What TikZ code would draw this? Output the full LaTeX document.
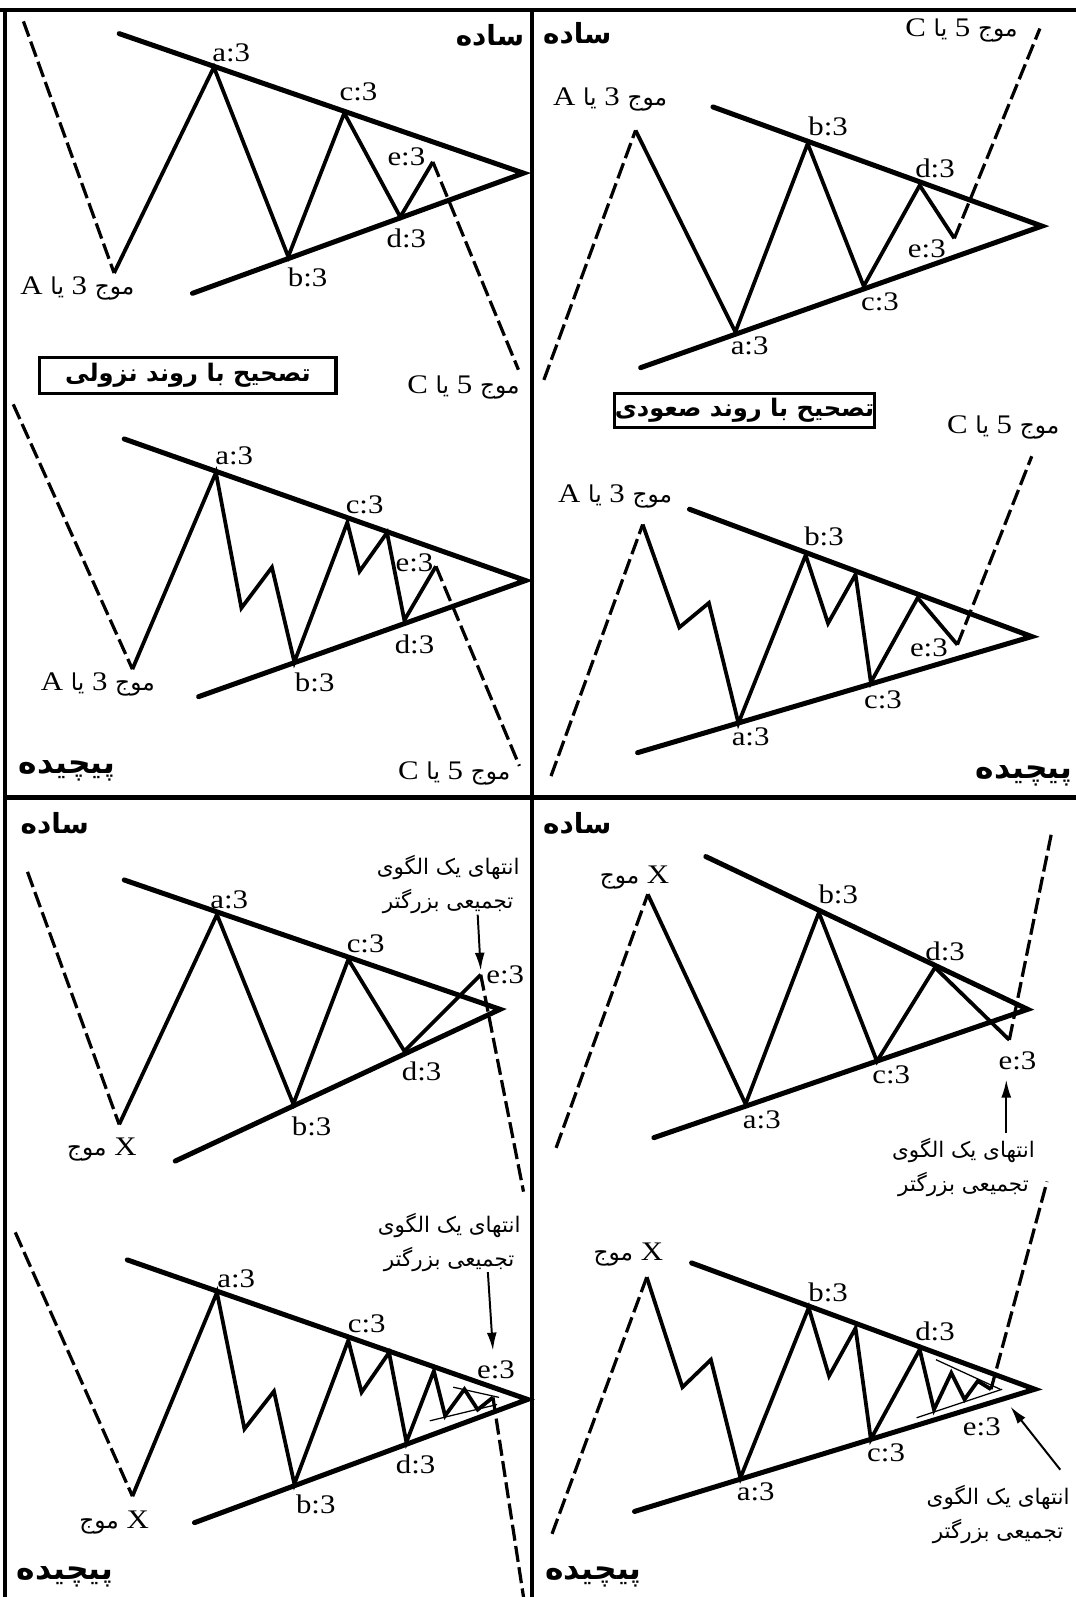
\documentclass[tikz,border=0pt]{standalone}
\usepackage{fontspec}
\setmainfont{Liberation Serif}[FakeStretch=1.15]
\newfontfamily\pfont[Script=Arabic]{DejaVu Sans}
\TeXXeTstate=1
\usetikzlibrary{arrows.meta}
\newcommand\pw[1]{{\pfont\fontsize{13}{15}\selectfont #1}}

\tikzset{
  frame/.style={line width=2.4pt},
  trend/.style={line width=2.8pt,line cap=round},
  wave/.style={line width=2.1pt,miter limit=20},
  wavedash/.style={line width=1.8pt,dash pattern=on 9pt off 3pt},
  fine/.style={line width=0.7pt},
  pointer/.style={line width=1.1pt,-{Latex[length=10pt,width=5.5pt]}},
  lbl/.style={font=\fontsize{15}{17}\selectfont,inner sep=0pt},
  title/.style={font=\pfont\bfseries\fontsize{15.5}{18}\selectfont,inner sep=0pt},
  titlec/.style={font=\pfont\bfseries\fontsize{17.5}{20}\selectfont,inner sep=0pt},
  note/.style={font=\pfont\fontsize{12}{19}\selectfont,align=center,inner sep=0pt},
  tag/.style={draw,line width=1.8pt,font=\pfont\bfseries\fontsize{13.5}{18}\selectfont,inner sep=0pt}
}

\begin{document}
\begin{tikzpicture}[x=0.02cm,y=-0.02cm]
\useasboundingbox (0,0) rectangle (1056,1568);
\draw[frame] (0,9.5) -- (1056,9.5);
\draw[frame] (5,9.5) -- (5,1568);
\draw[frame] (522,9.5) -- (522,1568);
\draw[frame] (5,783) -- (1056,783);

% top left
\draw[trend] (117,33) -- (514,170) -- (189,288);
\draw[wavedash] (23,21) -- (112,268);
\draw[wave] (112,268) -- (210,66) -- (283,252) -- (338,111) -- (393,213) -- (425,159);
\draw[wavedash] (425,159) -- (509,363);
\node[lbl] (tla) at (227,52) {a:3};
\node[lbl] (tlc) at (352,90) {c:3};
\node[lbl] (tle) at (399,154) {e:3};
\node[lbl] (tld) at (399,234) {d:3};
\node[lbl] (tlb) at (302,272) {b:3};
\node[lbl] (tlw) at (76,283) {\beginR\pw{موج} 3 \pw{یا} A\endR};
\node[lbl] (tlv) at (455,380) {\beginR\pw{موج} 5 \pw{یا} C\endR};
\node[title,anchor=east] (tls) at (515,35) {\beginR ساده\endR};
\node[tag,minimum width=5.82cm,minimum height=0.7cm] (tlk) at (184.5,368.5) {\beginR تصحیح با روند نزولی\endR};

% top right
\draw[trend] (700,105) -- (1023,222) -- (629,361);
\draw[wavedash] (534,373) -- (624,128);
\draw[wave] (624,128) -- (722,326) -- (793,141) -- (848,281) -- (903,182) -- (937,234);
\draw[wavedash] (937,234) -- (1021,28);
\node[lbl] (tra) at (736,340) {a:3};
\node[lbl] (trb) at (813,124) {b:3};
\node[lbl] (trc) at (864,296) {c:3};
\node[lbl] (trd) at (918,165) {d:3};
\node[lbl] (tre) at (910,244) {e:3};
\node[lbl] (trw) at (599,98) {\beginR\pw{موج} 3 \pw{یا} A\endR};
\node[lbl] (trv) at (944,30) {\beginR\pw{موج} 5 \pw{یا} C\endR};
\node[title,anchor=west] (trs) at (533,33) {\beginR ساده\endR};
\node[tag,minimum width=5.12cm,minimum height=0.68cm] (trk) at (731,403) {\beginR تصحیح با روند صعودی\endR};

% middle left
\draw[trend] (122,431) -- (516,570) -- (195,684);
\draw[wavedash] (13,397) -- (130,657);
\draw[wave] (130,657) -- (212,464) -- (237,597) -- (267,557) -- (289,650) -- (341,513) -- (353,561) -- (380,523) -- (397,609) -- (428,556);
\draw[wavedash] (428,556) -- (510,752);
\node[lbl] (mla) at (230,448) {a:3};
\node[lbl] (mlb) at (309,670) {b:3};
\node[lbl] (mlc) at (358,496) {c:3};
\node[lbl] (mld) at (407,633) {d:3};
\node[lbl] (mle) at (407,553) {e:3};
\node[lbl] (mlw) at (96,672) {\beginR\pw{موج} 3 \pw{یا} A\endR};
\node[lbl] (mlv) at (446,759) {\beginR\pw{موج} 5 \pw{یا} C\endR};
\node[titlec,anchor=west] (mls) at (18,757) {\beginR پیچیده\endR};

% middle right
\draw[trend] (677,500) -- (1013,625) -- (626,739);
\draw[wavedash] (541,762) -- (631,515);
\draw[wave] (631,515) -- (667,616) -- (696,592) -- (725,710) -- (791,545) -- (813,612) -- (840,564) -- (855,670) -- (901,587) -- (940,633);
\draw[wavedash] (940,633) -- (1013,448);
\node[lbl] (mra) at (737,723) {a:3};
\node[lbl] (mrb) at (809,527) {b:3};
\node[lbl] (mrc) at (867,687) {c:3};
\node[lbl] (mre) at (912,636) {e:3};
\node[lbl] (mrw) at (604,487) {\beginR\pw{موج} 3 \pw{یا} A\endR};
\node[lbl] (mrv) at (985,420) {\beginR\pw{موج} 5 \pw{یا} C\endR};
\node[titlec,anchor=east] (mrs) at (1053,762) {\beginR پیچیده\endR};

% bottom left, simple
\draw[trend] (122,864) -- (491,991) -- (172,1140);
\draw[wavedash] (27,856) -- (117,1104);
\draw[wave] (117,1104) -- (213,898) -- (288,1084) -- (342,942) -- (397,1032) -- (472,957);
\draw[wavedash] (472,957) -- (514,1170);
\node[lbl] (bla) at (225,883) {a:3};
\node[lbl] (blb) at (306,1106) {b:3};
\node[lbl] (blc) at (359,927) {c:3};
\node[lbl] (bld) at (414,1052) {d:3};
\node[lbl] (ble) at (496,957) {e:3};
\node[lbl] (blw) at (100,1129) {\beginR X \pw{موج}\endR};
\node[title,anchor=west] (bls) at (20,808) {\beginR ساده\endR};
\node[note] (bln) at (440,868) {\beginR انتهای یک الگوی\endR\\\beginR تجمیعی بزرگتر\endR};
\coordinate (blT) at (469,898);
\coordinate (blE) at (472,953);
\draw[pointer] (blT) -- (blE);

% bottom right, simple
\draw[trend] (693,841) -- (1009,991) -- (642,1117);
\draw[wavedash] (546,1127) -- (636,878);
\draw[wave] (636,878) -- (732,1084) -- (804,896) -- (861,1042) -- (918,950) -- (991,1021);
\draw[wavedash] (991,1021) -- (1033,815);
\node[lbl] (bra) at (748,1099) {a:3};
\node[lbl] (brb) at (823,878) {b:3};
\node[lbl] (brc) at (875,1055) {c:3};
\node[lbl] (brd) at (928,934) {d:3};
\node[lbl] (bre) at (999,1042) {e:3};
\node[lbl] (brw) at (623,862) {\beginR X \pw{موج}\endR};
\node[title,anchor=west] (brs) at (533,808) {\beginR ساده\endR};
\node[note] (brn) at (946,1146) {\beginR انتهای یک الگوی\endR\\\beginR تجمیعی بزرگتر\endR};
\coordinate (brT) at (988,1112);
\coordinate (brE) at (988,1060);
\draw[pointer] (brT) -- (brE);

% bottom left, complex
\draw[trend] (125,1237) -- (518,1374) -- (191,1495);
\draw[wavedash] (15,1210) -- (130,1469);
\draw[wave] (130,1469) -- (213,1269) -- (240,1403) -- (269,1366) -- (289,1457) -- (342,1316) -- (355,1367) -- (382,1328) -- (399,1416) -- (426,1346) -- (437,1390) -- (456,1364) -- (469,1384) -- (484,1372);
\draw[wavedash] (484,1372) -- (514,1568);
\draw[fine] (445,1362) -- (490,1372);
\draw[fine] (422,1395) -- (488,1379);
\node[lbl] (cla) at (232,1256) {a:3};
\node[lbl] (clb) at (310,1477) {b:3};
\node[lbl] (clc) at (360,1300) {c:3};
\node[lbl] (cld) at (408,1438) {d:3};
\node[lbl] (cle) at (487,1345) {e:3};
\node[lbl] (clw) at (112,1495) {\beginR X \pw{موج}\endR};
\node[titlec,anchor=west] (cls) at (16,1548) {\beginR پیچیده\endR};
\node[note] (cln) at (441,1220) {\beginR انتهای یک الگوی\endR\\\beginR تجمیعی بزرگتر\endR};
\coordinate (clT) at (479,1249);
\coordinate (clE) at (484,1326);
\draw[pointer] (clT) -- (clE);

% bottom right, complex
\draw[trend] (679,1240) -- (1016,1364) -- (623,1484);
\draw[wavedash] (542,1506) -- (635,1254);
\draw[wave] (635,1254) -- (670,1362) -- (698,1335) -- (727,1451) -- (794,1284) -- (814,1351) -- (840,1304) -- (855,1413) -- (903,1325) -- (917,1384) -- (934,1348) -- (947,1374) -- (960,1356) -- (973,1364);
\draw[wavedash] (973,1364) -- (1028,1160);
\draw[fine] (919,1335) -- (982,1364);
\draw[fine] (900,1392) -- (984,1364);
\node[lbl] (cra) at (742,1465) {a:3};
\node[lbl] (crb) at (813,1269) {b:3};
\node[lbl] (crc) at (870,1426) {c:3};
\node[lbl] (crd) at (918,1307) {d:3};
\node[lbl] (cre) at (964,1401) {e:3};
\node[lbl] (crw) at (617,1232) {\beginR X \pw{موج}\endR};
\node[titlec,anchor=west] (crs) at (535,1548) {\beginR پیچیده\endR};
\node[note] (crn) at (980,1487) {\beginR انتهای یک الگوی\endR\\\beginR تجمیعی بزرگتر\endR};
\coordinate (crT) at (1041,1443);
\coordinate (crE) at (992,1381);
\draw[pointer] (crT) -- (crE);
\end{tikzpicture}
\end{document}
